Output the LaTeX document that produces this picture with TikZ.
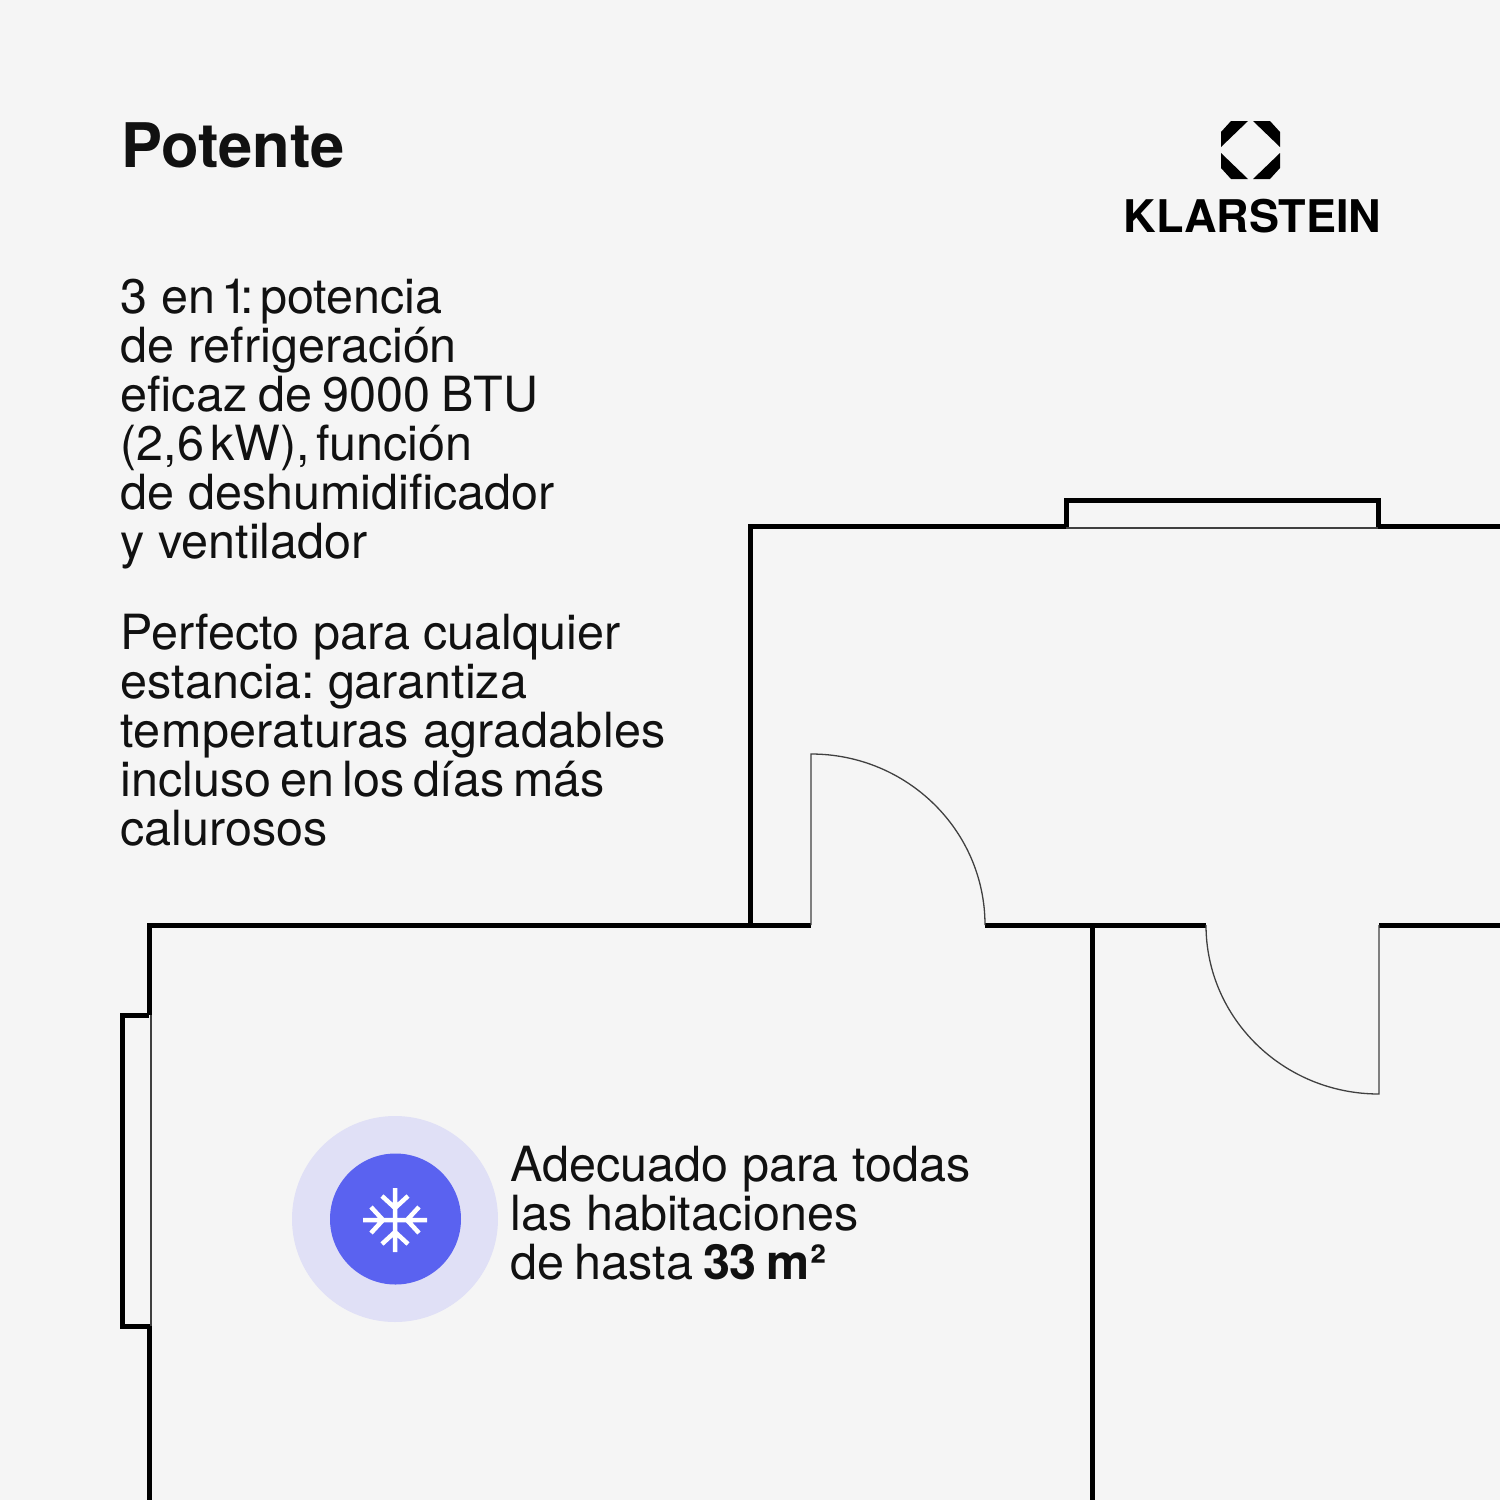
\documentclass[tikz,border=0pt]{standalone}
\usepackage{fontspec}
\setmainfont{TeX Gyre Heros}
\usetikzlibrary{positioning}

\definecolor{paper}{HTML}{F5F5F5}
\definecolor{halo}{HTML}{E0E0F6}
\definecolor{accent}{HTML}{5A62F0}
\definecolor{ink}{HTML}{111111}

\begin{document}
\frenchspacing
\begin{tikzpicture}[x=1pt,y=-1pt,
      wall/.style={draw=black,line width=5pt,line join=miter},
      thinwall/.style={draw=black!75,line width=1.2pt},
      leaf/.style={draw=black!75,line width=1.3pt},
      body/.style={inner sep=0pt,anchor=north west,align=left,text=ink,font=\fontsize{48.5}{49}\selectfont},
      logopart/.style={fill=black}]
      \useasboundingbox (0,0) rectangle (1500,1500);
      \fill[paper] (0,0) rectangle (1500,1500);

      % heading and logo
      \node[inner sep=0pt,anchor=base west,font=\fontsize{61.5}{61.5}\selectfont\bfseries,text=ink] (title) at (121,167) {Potente};
      \node[inner sep=0pt,anchor=base,font=\fontsize{45}{45}\selectfont\bfseries] (brand) at (1252.5,232) {KLARSTEIN};
      \fill[logopart] (1221,132) -- (1231,121) -- (1248,121) -- (1221,147) -- cycle;
      \fill[logopart] (1253,121) -- (1270,121) -- (1280,132) -- (1280,147) -- cycle;
      \fill[logopart] (1221,153) -- (1248,179) -- (1231,179) -- (1221,168) -- cycle;
      \fill[logopart] (1280,153) -- (1253,179) -- (1270,179) -- (1280,168) -- cycle;

      % text
      \node[body] (para1) at (120.5,279) {3 en\kern-4pt\ \kern-3pt 1\kern-8pt:\kern-7pt\ potencia\\de refrigeración\\{\spaceskip=10.8pt eficaz de 9000 BTU}\\{\spaceskip=6.5pt (2,6 kW), función}\\de deshumidificador\\y ventilador};
      \node[body] (para2) at (120.5,614) {Perfecto para cualquier\\estancia: garantiza\\{\addfontfeature{LetterSpace=0.7}temperaturas agradables}\\{\spaceskip=8.5pt incluso en los días más}\\calurosos};

      % rooms
      \draw[wall] (750,925) -- (750,526) -- (1066,526) -- (1066,500) -- (1378,500) -- (1378,526) -- (1500,526);
      \draw[thinwall] (1066,528) -- (1378,528);
      \draw[wall] (149,1015) -- (149,925) -- (811,925);
      \draw[wall] (985,925) -- (1206,925);
      \draw[wall] (1379,925) -- (1500,925);
      \draw[wall] (1092.5,925) -- (1092.5,1500);
      \draw[wall] (149,1015) -- (122,1015) -- (122,1326) -- (149,1326) -- (149,1500);
      \draw[thinwall] (151,1015) -- (151,1326);

      % doors
      \draw[leaf] (811,925) -- (811,754) arc[start angle=90,end angle=0,x radius=174,y radius=-171];
      \draw[leaf] (1206,925) arc[start angle=180,end angle=270,x radius=173,y radius=-169] -- (1379,925);

      % cooling badge
      \node[circle,fill=halo,minimum size=206pt,inner sep=0pt] (badge) at (395,1219) {};
      \node[circle,fill=accent,minimum size=131pt,inner sep=0pt] (core) at (395.5,1219) {};
      \foreach \ang in {0,90,180,270}
        \draw[white,line width=4.5pt,rotate around={\ang:(395,1220)}]
          (395,1220) -- (395,1188)
          (382,1196) -- (395,1208) -- (408,1196);
      \node[body] (note) at (510.5,1146) {Adecuado para todas\\las habitaciones\\{\spaceskip=10pt de hasta \textbf{33 m²}}};
    \end{tikzpicture}
\end{document}
